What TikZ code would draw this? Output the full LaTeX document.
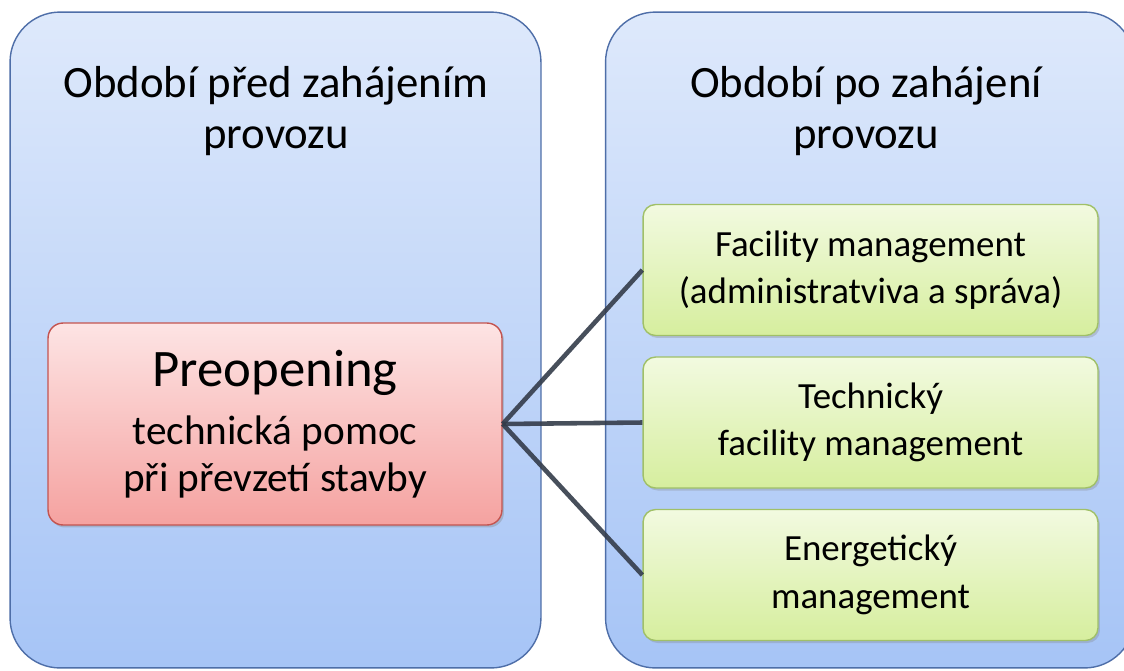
\documentclass[tikz,border=0pt]{standalone}
\usepackage{fontspec}
\setmainfont{Carlito}
\usetikzlibrary{shadows}

\definecolor{panelTop}{RGB}{222,233,251}
\definecolor{panelBot}{RGB}{166,196,246}
\definecolor{panelLine}{RGB}{78,110,168}
\definecolor{redTop}{RGB}{253,228,228}
\definecolor{redBot}{RGB}{245,162,160}
\definecolor{redLine}{RGB}{196,84,80}
\definecolor{greenTop}{RGB}{242,250,224}
\definecolor{greenBot}{RGB}{214,238,158}
\definecolor{greenLine}{RGB}{160,192,104}
\definecolor{linkCol}{RGB}{52,60,74}

\begin{document}
\begin{tikzpicture}[x=0.02cm, y=-0.02cm,
    panel/.style={draw=panelLine, line width=0.8pt, rounded corners=1cm,
      top color=panelTop, bottom color=panelBot, inner sep=0pt,
      minimum height=13.12cm},
    title/.style={align=center, font=\fontsize{25.5}{29}\selectfont},
    redbox/.style={draw=redLine, line width=0.8pt, rounded corners=0.3cm,
      top color=redTop, bottom color=redBot, minimum width=9.08cm,
      minimum height=4.04cm, align=center,
      font=\fontsize{23.5}{27}\selectfont,
      drop shadow={opacity=0.35, shadow xshift=0.04cm, shadow yshift=-0.05cm}},
    greenbox/.style={draw=greenLine, line width=0.8pt, rounded corners=0.25cm,
      top color=greenTop, bottom color=greenBot, minimum width=9.1cm,
      minimum height=2.62cm, align=center,
      font=\fontsize{21}{27}\selectfont,
      drop shadow={opacity=0.3, shadow xshift=0.04cm, shadow yshift=-0.05cm}},
    link/.style={draw=linkCol, line width=2.6pt, opacity=0.9}]

  \useasboundingbox (0,0) rectangle (1124,670);
  \clip (0,0) rectangle (1124,670);
  \fill[white] (0,0) rectangle (1124,670);

  \node[panel, minimum width=10.62cm] (before) at (275.5,340) {};
  \node[panel, minimum width=10.58cm] (after) at (870,340) {};

  \node[title] (beforeTitle) at (276,111) {Období před zahájením\\provozu};
  \node[title] (afterTitle) at (866,111) {Období po zahájení\\provozu};

  \node[redbox] (pre) at (275,424)
    {{\fontsize{30}{36}\selectfont Preopening}\\[6pt]
     technická pomoc\\při převzetí stavby};

  \node[greenbox] (fm) at (870.5,270)
    {Facility management\\(administratviva a správa)};
  \node[greenbox] (tfm) at (870.5,422.5)
    {Technický\\facility management};
  \node[greenbox] (em) at (870.5,575)
    {Energetický\\management};

  \draw[link] (pre.east) -- (fm.west);
  \draw[link] (pre.east) -- (tfm.west);
  \draw[link] (pre.east) -- (em.west);
\end{tikzpicture}
\end{document}
